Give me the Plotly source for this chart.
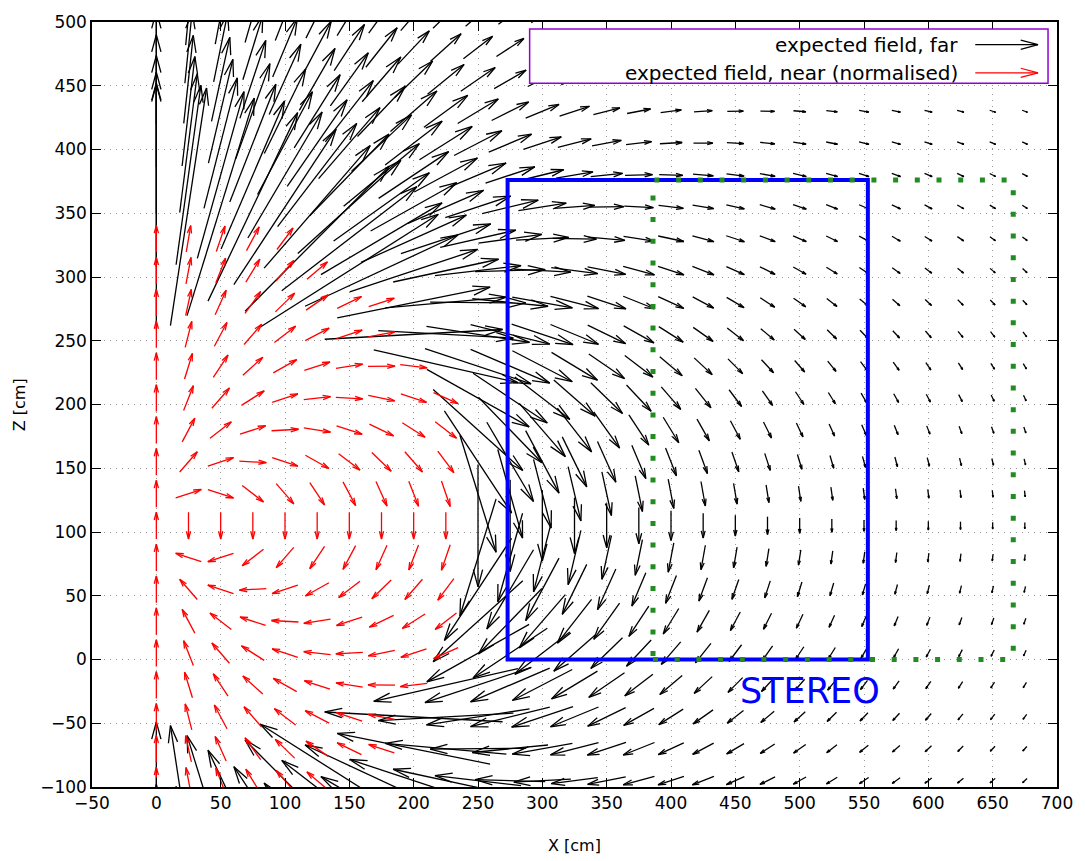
import math
import plotly.graph_objects as go

# ---------------- data ----------------
# grid points (arrows are centred on them), cm
x_grid = [0, 25, 50, 75, 100, 125, 150, 175, 200, 225, 250, 275, 300, 325,
          350, 375, 400, 425, 450, 475, 500, 525, 550, 575, 600, 625, 650, 675]
z_grid = [-295, -270, -245, -220, -195, -170, -145, -120, -95, -70, -45, -20,
          5, 30, 55, 80, 105, 130, 155, 180, 205, 230, 255, 280, 305, 330,
          355, 380, 405, 430, 455, 480, 505, 530, 555, 580, 605]
# field source (dipole along +Z) and the arrow scales
source_x = 0.0
source_z = 105.0
far_scale = 1.5e9        # black arrow length [cm] = far_scale * |B_dipole| (cm^4)
near_length = 21.0       # red (normalised) arrow length [cm]
near_radius = 249.0      # points closer than this to the source are drawn red

x_ticks = [-50, 0, 50, 100, 150, 200, 250, 300, 350, 400, 450, 500, 550, 600, 650, 700]
z_ticks = [-100, -50, 0, 50, 100, 150, 200, 250, 300, 350, 400, 450, 500]

stereo_box = {"x0": 273, "x1": 553, "z0": 0, "z1": 376}
shielding_box = {"x0": 386, "x1": 666, "z0": 0, "z1": 376}

legend_labels = ["expected field, far", "expected field, near (normalised)"]
legend_colors = ["black", "red"]

# ---------------- geometry of the page ----------------
W, H = 1085, 861
ML, MR, MT, MB = 92, 25, 12, 74
XR = (-50, 700)
ZR = (-100, 500)
SX = (W - ML - MR) / (XR[1] - XR[0])   # px per cm
SZ = (H - MT - MB) / (ZR[1] - ZR[0])
LEN_TIC = 9.0
C15, S15 = math.cos(math.radians(15)), math.sin(math.radians(15))


def head_pts(tx, tz, hx, hz):
    """gnuplot style open arrow head, computed in pixel space"""
    dx = (tx - hx) * SX
    dz = (tz - hz) * SZ
    L = math.hypot(dx, dz)
    if L < 1e-9:
        return None
    coeff = max(LEN_TIC * 0.1 / L, min(0.3, LEN_TIC * 2.0 / L))
    b1 = ((C15 * dx - S15 * dz) * coeff, (S15 * dx + C15 * dz) * coeff)
    b2 = ((C15 * dx + S15 * dz) * coeff, (-S15 * dx + C15 * dz) * coeff)
    return ((hx + b1[0] / SX, hz + b1[1] / SZ), (hx + b2[0] / SX, hz + b2[1] / SZ))


far_x, far_z, near_x, near_z = [], [], [], []
for x in x_grid:
    for z in z_grid:
        dx = x - source_x
        dz = z - source_z
        d = math.hypot(dx, dz)
        if d < near_radius:
            if d < 1e-9:
                ux, uz = 0.0, 1.0
            else:
                bx = 3 * dx * dz / d ** 5
                bz = (3 * dz * dz - d * d) / d ** 5
                n = math.hypot(bx, bz)
                ux, uz = bx / n, bz / n
            vx, vz = ux * near_length, uz * near_length
            X, Z = near_x, near_z
        else:
            vx = far_scale * 3 * dx * dz / d ** 5
            vz = far_scale * (3 * dz * dz - d * d) / d ** 5
            X, Z = far_x, far_z
        tx, tz = x - vx / 2, z - vz / 2
        hx, hz = x + vx / 2, z + vz / 2
        X += [tx, hx, None]
        Z += [tz, hz, None]
        hp = head_pts(tx, tz, hx, hz)
        if hp:
            X += [hp[0][0], hx, hp[1][0], None]
            Z += [hp[0][1], hz, hp[1][1], None]

fig = go.Figure()
fig.add_trace(go.Scatter(x=far_x, y=far_z, mode="lines",
                         line=dict(color="black", width=1.3),
                         hoverinfo="skip", showlegend=False))
fig.add_trace(go.Scatter(x=near_x, y=near_z, mode="lines",
                         line=dict(color="red", width=1.3),
                         hoverinfo="skip", showlegend=False))

shapes = []
shapes.append(dict(type="rect", xref="x", yref="y",
                   x0=stereo_box["x0"], x1=stereo_box["x1"],
                   y0=stereo_box["z0"], y1=stereo_box["z1"],
                   line=dict(color="#0000ff", width=4)))
shapes.append(dict(type="rect", xref="x", yref="y",
                   x0=shielding_box["x0"], x1=shielding_box["x1"],
                   y0=shielding_box["z0"], y1=shielding_box["z1"],
                   line=dict(color="#228b22", width=5, dash="5px,16.7px")))


def px2paper(px, py):
    return (px - ML) / (W - ML - MR), (H - MB - py) / (H - MT - MB)


# legend box
lx0, ly0 = px2paper(531, 74)
lx1, ly1 = px2paper(1051, 19)
shapes.append(dict(type="rect", xref="paper", yref="paper", x0=lx0, x1=lx1, y0=ly0, y1=ly1,
                   fillcolor="white", line=dict(color="#9400d3", width=1.5)))
annotations = []
for i, (lab, col) in enumerate(zip(legend_labels, legend_colors)):
    py = 35 + 28.5 * i
    tx, ty = px2paper(963, py)
    annotations.append(dict(x=tx, y=ty, xref="paper", yref="paper", text=lab,
                            showarrow=False, xanchor="right", yanchor="middle",
                            font=dict(family="DejaVu Sans", size=20, color="black")))
    ax0, ay = px2paper(978, py)
    ax1, _ = px2paper(1041, py)
    shapes.append(dict(type="line", xref="paper", yref="paper", x0=ax0, x1=ax1, y0=ay, y1=ay,
                       line=dict(color=col, width=1.2)))
    hl = 18.0
    for sgn in (1, -1):
        bx, by = px2paper(1041 - hl * C15, py + sgn * hl * S15)
        shapes.append(dict(type="line", xref="paper", yref="paper", x0=ax1, x1=bx, y0=ay, y1=by,
                           line=dict(color=col, width=1.2)))

annotations.append(dict(x=508, y=-25, xref="x", yref="y", text="STEREO", showarrow=False,
                        xanchor="center", yanchor="middle",
                        font=dict(family="DejaVu Sans", size=35, color="#0000ff")))
xt, yt = px2paper(576, 846)
annotations.append(dict(x=xt, y=yt, xref="paper", yref="paper", text="X [cm]", showarrow=False,
                        xanchor="center", yanchor="middle",
                        font=dict(family="DejaVu Sans", size=16, color="black")))
xt, yt = px2paper(20, 400)
annotations.append(dict(x=xt, y=yt, xref="paper", yref="paper", text="Z [cm]", showarrow=False,
                        xanchor="center", yanchor="middle", textangle=-90,
                        font=dict(family="DejaVu Sans", size=16, color="black")))

axis_common = dict(showline=True, linecolor="black", linewidth=1.5, mirror="allticks",
                   ticks="inside", ticklen=9, tickwidth=1.2, tickcolor="black",
                   showgrid=True, gridcolor="#9a9a9a", gridwidth=1, griddash="1px,5px",
                   zeroline=False, tickfont=dict(family="DejaVu Sans", size=17, color="black"))

fig.update_layout(
    width=W, height=H,
    margin=dict(l=ML, r=MR, t=MT, b=MB),
    paper_bgcolor="white", plot_bgcolor="white",
    showlegend=False,
    xaxis=dict(range=list(XR), tickvals=x_ticks, **axis_common),
    yaxis=dict(range=list(ZR), tickvals=z_ticks, **axis_common),
    shapes=shapes, annotations=annotations,
)
fig.write_html("out.html",
               config={"displayModeBar": False},
               post_script="document.body.style.margin='0px';document.body.style.padding='0px';")
